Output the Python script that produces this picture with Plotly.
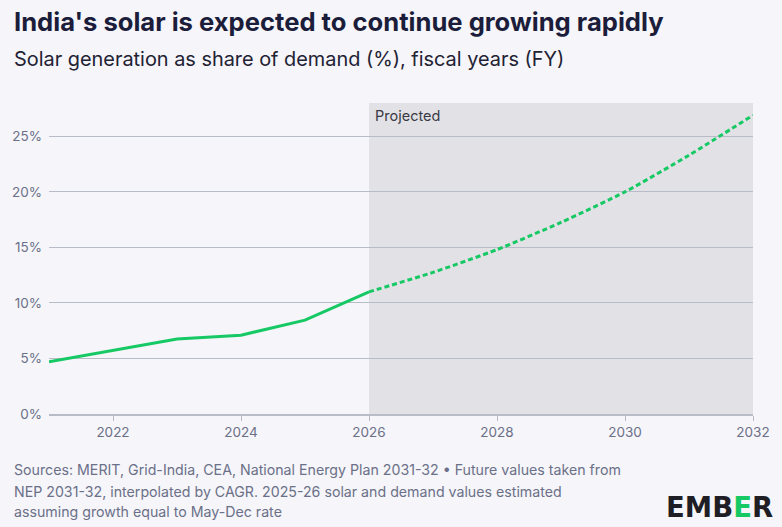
import plotly.graph_objects as go

hist_years = [2021, 2022, 2023, 2024, 2025, 2026]
hist_share = [4.7, 5.75, 6.75, 7.1, 8.45, 11.0]
proj_years = [2026, 2027, 2028, 2029, 2030, 2031, 2032]
proj_share = [11.0, 12.75, 14.8, 17.25, 20.0, 23.3, 26.9]
x_ticks = [2022, 2024, 2026, 2028, 2030, 2032]
y_ticks = [0, 5, 10, 15, 20, 25]
y_tick_labels = ["0%", "5%", "10%", "15%", "20%", "25%"]
footer_lines = [
    "Sources: MERIT, Grid-India, CEA, National Energy Plan 2031-32 \u2022 Future values taken from",
    "NEP 2031-32, interpolated by CAGR. 2025-26 solar and demand values estimated",
    "assuming growth equal to May-Dec rate",
]

GREEN = "#17c964"
BG = "#f5f5fa"
FONT = "Inter"
W, H = 782, 527
L, R, T, B = 48, 27, 103, 113
PW = W - L - R

def px_x(p):
    return (p - L) / PW

fig = go.Figure()
fig.add_vrect(x0=2026, x1=2032, fillcolor="#e1e1e6", line_width=0, layer="below")
fig.add_trace(go.Scatter(x=hist_years, y=hist_share, mode="lines",
                         line=dict(color=GREEN, width=3), hoverinfo="skip", showlegend=False))
fig.add_trace(go.Scatter(x=proj_years, y=proj_share, mode="lines",
                         line=dict(color=GREEN, width=3, dash="5px,3px", shape="spline", smoothing=0.6),
                         hoverinfo="skip", showlegend=False))

fig.update_layout(
    width=W, height=H,
    margin=dict(l=L, r=R, t=T, b=B),
    paper_bgcolor=BG, plot_bgcolor=BG,
    font=dict(family=FONT, color="#6b7088", size=13),
    xaxis=dict(range=[2021, 2032], tickvals=x_ticks, showgrid=False, zeroline=False,
               showline=True, linecolor="#b8bcc8", linewidth=1.5,
               ticks="outside", ticklen=5, tickcolor="#b8bcc8",
               tickfont=dict(size=13.5, color="#6b7088")),
    yaxis=dict(range=[0, 28], tickvals=y_ticks, ticktext=y_tick_labels,
               showgrid=True, gridcolor="#b8bcc8", gridwidth=1.2, zeroline=False,
               showline=False, ticks="", ticklabelstandoff=6,
               tickfont=dict(size=13.5, color="#6b7088")),
    showlegend=False,
)

fig.add_annotation(text="<b>India's solar is expected to continue growing rapidly</b>",
                   xref="paper", yref="paper", x=px_x(11), y=1.0, xanchor="left", yanchor="middle",
                   yshift=T - 21, showarrow=False, font=dict(size=25.6, color="#1b1d3a", family=FONT))
fig.add_annotation(text="Solar generation as share of demand (%), fiscal years (FY)",
                   xref="paper", yref="paper", x=px_x(11), y=1.0, xanchor="left", yanchor="middle",
                   yshift=T - 59, showarrow=False, font=dict(size=19.9, color="#222233", family=FONT))
fig.add_annotation(text="Projected", xref="x", yref="paper", x=2026, y=1.0,
                   xanchor="left", yanchor="top", xshift=4, yshift=-2, showarrow=False,
                   font=dict(size=14.5, color="#3a3a45", family=FONT))
for i, line in enumerate(footer_lines):
    fig.add_annotation(text=line, xref="paper", yref="paper", x=px_x(11), y=0,
                       xanchor="left", yanchor="middle", yshift=-(470 + 21 * i - (H - B)),
                       showarrow=False, align="left",
                       font=dict(size=14.2, color="#6b7088", family=FONT))
fig.add_annotation(text="<b>EMB<span style='color:#17c964'>E</span>R</b>",
                   xref="paper", yref="paper", x=px_x(777), y=0, xanchor="right", yanchor="middle",
                   yshift=-(507 - (H - B)), showarrow=False,
                   font=dict(size=27.5, color="#1e1e24", family="DejaVu Sans"))

fig.write_html("out.html", config={"displayModeBar": False},
               post_script="document.body.style.margin='0';document.body.style.background='#f5f5fa';")
